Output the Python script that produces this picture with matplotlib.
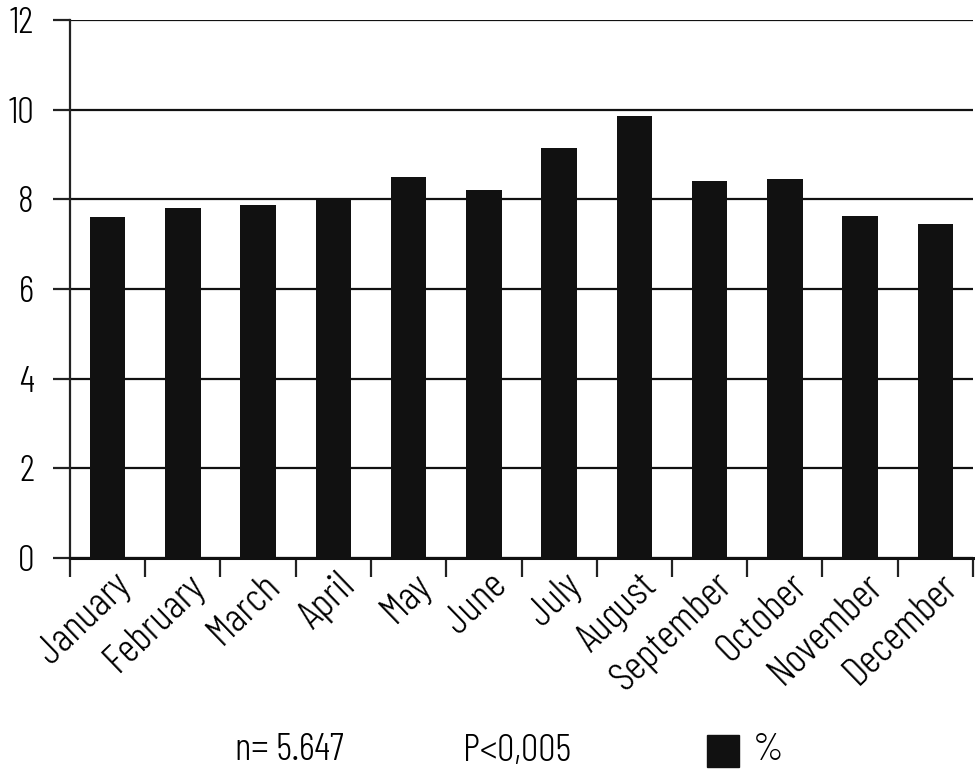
import matplotlib.pyplot as plt
import matplotlib.transforms as mtransforms
import numpy as np

months = ['January', 'February', 'March', 'April', 'May', 'June', 'July',
          'August', 'September', 'October', 'November', 'December']
percent = [7.61, 7.81, 7.87, 8.03, 8.50, 8.21, 9.15, 9.86, 8.41, 8.45, 7.63, 7.45]
y_ticks = [0, 2, 4, 6, 8, 10, 12]

plt.rcParams['font.family'] = ['Barlow Condensed', 'DejaVu Sans']
plt.rcParams['font.weight'] = 300

fig = plt.figure(figsize=(9.75, 7.75), dpi=100)
ax = fig.add_axes([70 / 975, 217 / 775, 903 / 975, 538 / 775])

x = np.arange(len(months))
ax.bar(x, percent, width=0.47, color='#111111', zorder=3)

ax.set_xlim(-0.5, len(months) - 0.5)
ax.set_ylim(0, 12)
ax.set_yticks(y_ticks)
ax.set_yticklabels([str(t) for t in y_ticks], fontsize=27)
ax.yaxis.grid(True, color='#111111', linewidth=1.6, zorder=1)
ax.tick_params(axis='y', length=12, width=1.6, color='#222222', pad=14)

# month labels drawn by hand so they can sit a bit right of the bar centre
ax.set_xticks(x)
ax.set_xticklabels([])
ax.tick_params(axis='x', which='major', length=0)
lab_tr = mtransforms.offset_copy(ax.get_xaxis_transform(), fig=fig, x=17, y=-22, units='dots')
for i, m in enumerate(months):
    ax.text(i, 0, m, transform=lab_tr, rotation=44, ha='right', va='center',
            rotation_mode='anchor', fontsize=30, clip_on=False)
ax.set_xticks(np.arange(-0.5, len(months)), minor=True)
ax.tick_params(axis='x', which='minor', length=14, width=1.6, color='#222222')

for s in ['top', 'right']:
    ax.spines[s].set_visible(False)
ax.spines['left'].set_linewidth(1.6)
ax.spines['left'].set_color('#222222')
ax.spines['bottom'].set_linewidth(2.2)
ax.spines['bottom'].set_color('#111111')

fig.text(235 / 975, 24 / 775, 'n= 5.647', fontsize=28, va='center')
fig.text(463 / 975, 24 / 775, 'P<0,005', fontsize=28, va='center')
fig.patches.append(plt.Rectangle((707 / 975, 8 / 775), 32 / 975, 32 / 775,
                                 transform=fig.transFigure, color='#111111', figure=fig))
fig.text(753 / 975, 24 / 775, '%', fontsize=28, va='center')

fig.savefig('out.png', dpi=100)
